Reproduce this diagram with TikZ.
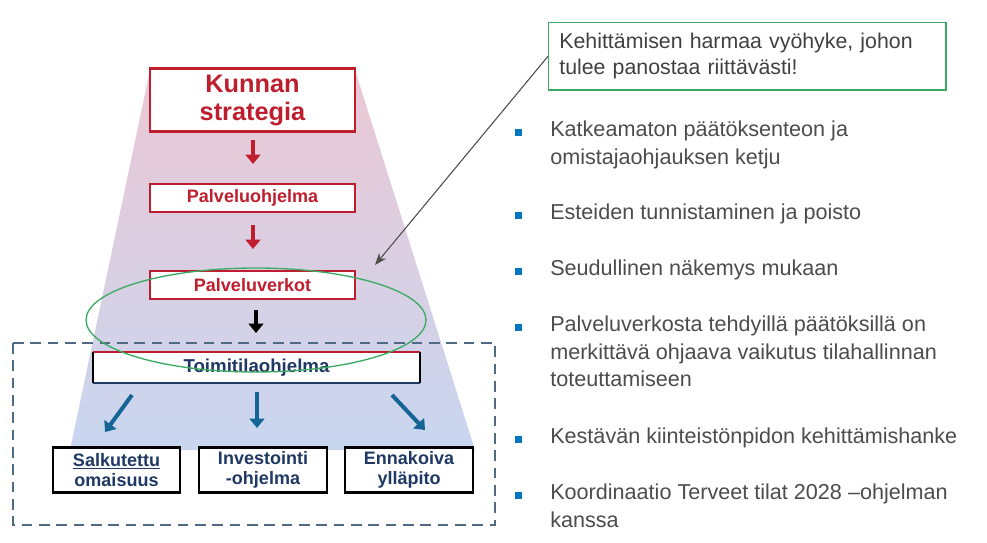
\documentclass[tikz,border=0pt]{standalone}
\usepackage{fontspec}
\setmainfont{Liberation Sans}
\usetikzlibrary{arrows.meta}
\definecolor{kred}{RGB}{190,30,45}
\definecolor{kblue}{RGB}{31,56,100}
\definecolor{kgreen}{RGB}{60,170,100}
\definecolor{kdash}{RGB}{50,80,110}
\definecolor{karrow}{RGB}{20,100,150}
\definecolor{kbullet}{RGB}{0,120,190}
\tikzset{
  redbox/.style={draw=kred, line width=1.8pt, fill=white, text=kred, font=\bfseries},
  leafbox/.style={draw=black, line width=1.8pt, fill=white, text=kblue, font=\bfseries\fontsize{13.5}{15}\selectfont, align=center, inner sep=1pt},
  bullettext/.style={anchor=north west, align=left, font=\fontsize{16.2}{20.5}\selectfont, text=black!70},
  flow/.style={-{Triangle[width=11pt,length=7pt]}, line width=3pt},
}
\begin{document}
\begin{tikzpicture}[x=0.75pt,y=-0.75pt]
\useasboundingbox (0,0) rectangle (987,542);
% funnel
\shade[top color={rgb,255:red,236;green,200;blue,212}, bottom color={rgb,255:red,200;green,214;blue,240}] (150,70) -- (355,70) -- (475,450) -- (70,450) -- cycle;
% boxes
\node[redbox, minimum width=153.75pt, minimum height=47pt, align=center, font=\bfseries\fontsize{19}{21}\selectfont] (strat) at (252.5,100) {Kunnan\\strategia};
\node[redbox, minimum width=153.75pt, minimum height=21pt, inner sep=1pt, font=\bfseries\fontsize{13.5}{15}\selectfont] (palv) at (252.5,198) {Palveluohjelma};
\node[redbox, minimum width=153.75pt, minimum height=21pt, inner sep=1pt, font=\bfseries\fontsize{13.5}{15}\selectfont] (verk) at (252.5,285) {Palveluverkot};
\node[fill=white, minimum width=245pt, minimum height=23pt, inner sep=1pt, text=kblue, font=\bfseries\fontsize{14}{16}\selectfont] (toim) at (256.5,367.5) {Toimitilaohjelma};
\draw[kred, line width=1.5pt] (toim.north west) -- (toim.north east);
\draw[kblue, line width=1.5pt] (toim.south west) -- (toim.south east);
\draw[line width=1pt] (toim.north west) -- (toim.south west) (toim.north east) -- (toim.south east);
\node[leafbox, minimum width=95pt, minimum height=34pt] (salk) at (116.5,470) {\underline{Salkutettu}\\omaisuus};
\node[leafbox, minimum width=96pt, minimum height=34pt] (inv) at (263,470) {Investointi\\-ohjelma};
\node[leafbox, minimum width=96pt, minimum height=34pt] (enn) at (409,470) {Ennakoiva\\ylläpito};
% arrows
\draw[flow, kred] (253,140) -- (253,164);
\draw[flow, kred] (253,225) -- (253,249);
\draw[flow, black] (256,310) -- (256,333);
\draw[flow, karrow] (132,395) -- (105,432);
\draw[flow, karrow] (257,392) -- (257,428);
\draw[flow, karrow] (392,395) -- (425,430);
% frames
\draw[kdash!85, line width=1.8pt, dash pattern=on 8pt off 5pt] (13,343) rectangle (495,525);
\draw[kgreen, line width=1pt] (256,320) ellipse [x radius=127.5pt, y radius=39pt];
\node[draw=kgreen, line width=1pt, anchor=north west, minimum width=297pt, minimum height=49pt, align=left, font=\fontsize{16}{19.5}\selectfont, text=black!75, inner sep=8pt, text width=282pt] (note) at (548,22) {Kehittämisen harmaa vyöhyke, johon\\tulee panostaa riittävästi!};
\coordinate (tip) at (375,265);
\draw[-{Stealth[length=9pt]}, black!70, line width=0.8pt] (note.west) -- (tip);
% bullets
\foreach \y/\t in {121/{Katkeamaton päätöksenteon ja\\omistajaohjauksen ketju},
  204/{Esteiden tunnistaminen ja poisto},
  260/{Seudullinen näkemys mukaan},
  316/{Palveluverkosta tehdyillä päätöksillä on\\merkittävä ohjaava vaikutus tilahallinnan\\toteuttamiseen},
  428/{Kestävän kiinteistönpidon kehittämishanke},
  484/{Koordinaatio Terveet tilat 2028 –ohjelman\\kanssa}}{
  \fill[kbullet] (515,\y+8) rectangle ++(7,7);
  \node[bullettext, inner sep=0pt] at (550,\y) {\t};
}
\end{tikzpicture}
\end{document}
